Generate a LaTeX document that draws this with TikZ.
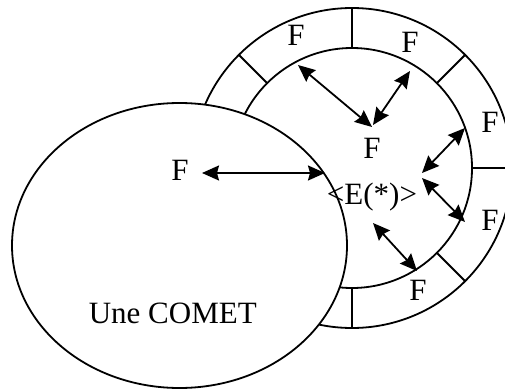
\documentclass[tikz,border=0pt]{standalone}
\usepackage{fontspec}
\setmainfont{Liberation Serif}
\usetikzlibrary{shapes.geometric,arrows.meta,calc}
\tikzset{
  lbl/.style={inner sep=0pt, anchor=base, font=\fontsize{31}{37}\selectfont},
  ringline/.style={line width=1.8pt},
  dbl/.style={line width=1.8pt, {Stealth[length=17pt,width=15pt,inset=2pt]}-{Stealth[length=17pt,width=15pt,inset=2pt]}},
}
\begin{document}
\begin{tikzpicture}[x=1pt,y=-1pt]
\useasboundingbox (0,0) rectangle (505,390);
\clip (0,0) rectangle (505,390);
% ring
\coordinate (c) at (352,168);
\draw[ringline] (c) circle[radius=160];
\draw[ringline] (c) circle[radius=120];
\foreach \a in {0,45,90,135,270,315}{
  \draw[ringline] ($(c)+(\a:120 and -120)$) -- ($(c)+(\a:160 and -160)$);
}
% comet
\node[ellipse, draw, line width=1.8pt, fill=white, minimum width=335pt, minimum height=285pt, inner sep=0pt] (comet) at (179.5,245.5) {};
\node[lbl] (une) at (172.8,323) {Une COMET};
% labels
\node[lbl] (fin) at (180,180.5) {F};
\node[lbl] (fc) at (372,158) {F};
\node[lbl] (e) at (372,204) {<E(*)>};
\node[lbl] (f1) at (296,46) {F};
\node[lbl] (f2) at (410,53) {F};
\node[lbl] (f3) at (490,133) {F};
\node[lbl] (f4) at (490,230) {F};
\node[lbl] (f5) at (418,300) {F};
% arrow ends
\coordinate (a1s) at (298,65);  \coordinate (a1e) at (372,127);
\coordinate (a2s) at (373,125); \coordinate (a2e) at (410,71);
\coordinate (a3s) at (465,128); \coordinate (a3e) at (422,173);
\coordinate (a4s) at (422,178); \coordinate (a4e) at (465,222);
\coordinate (a5s) at (373,223); \coordinate (a5e) at (417,271);
\coordinate (a6s) at (202,173); \coordinate (a6e) at (325,173);
\draw[dbl] (a1s) -- (a1e);
\draw[dbl] (a2s) -- (a2e);
\draw[dbl] (a3s) -- (a3e);
\draw[dbl] (a4s) -- (a4e);
\draw[dbl] (a5s) -- (a5e);
\draw[dbl] (a6s) -- (a6e);
\end{tikzpicture}
\end{document}
